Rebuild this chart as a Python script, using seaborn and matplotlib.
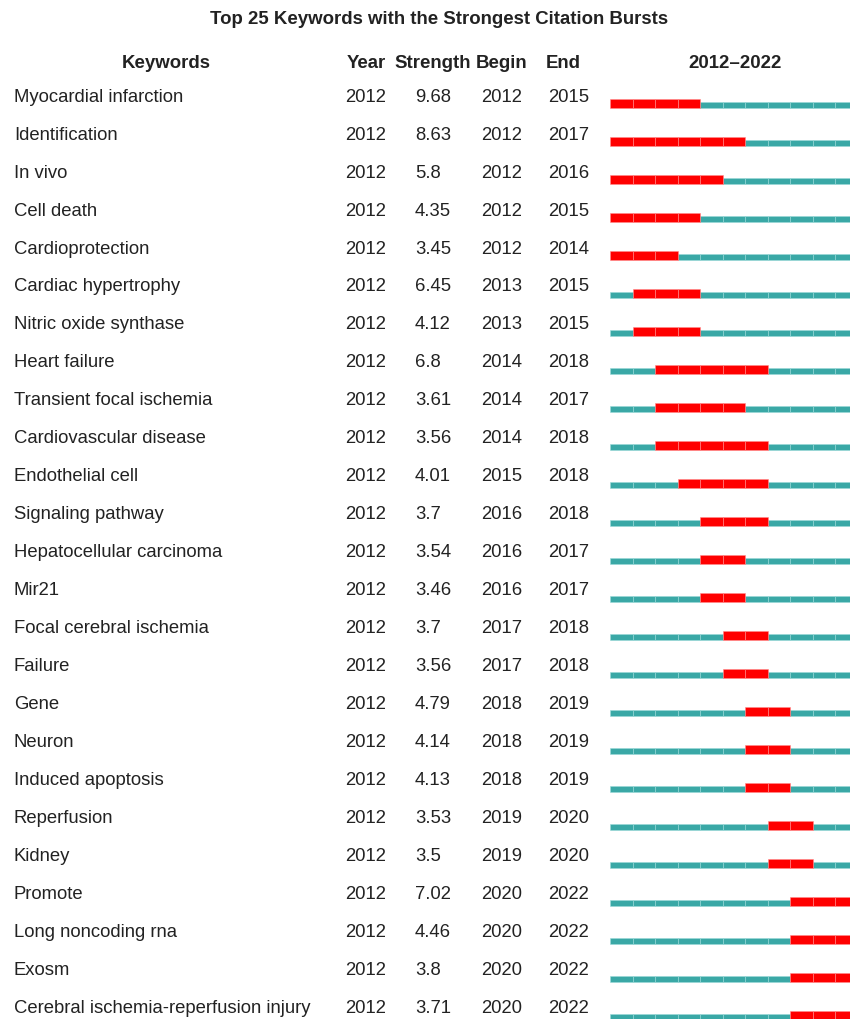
import numpy as np
import pandas as pd
import matplotlib
matplotlib.use("Agg")
import matplotlib.pyplot as plt
import seaborn as sns

# Burst table data
keywords = [
    "Myocardial infarction", "Identification", "In vivo", "Cell death",
    "Cardioprotection", "Cardiac hypertrophy", "Nitric oxide synthase",
    "Heart failure", "Transient focal ischemia", "Cardiovascular disease",
    "Endothelial cell", "Signaling pathway", "Hepatocellular carcinoma",
    "Mir21", "Focal cerebral ischemia", "Failure", "Gene", "Neuron",
    "Induced apoptosis", "Reperfusion", "Kidney", "Promote",
    "Long noncoding rna", "Exosm", "Cerebral ischemia-reperfusion injury",
]
year = [2012] * 25
strength = ["9.68", "8.63", "5.8", "4.35", "3.45", "6.45", "4.12", "6.8", "3.61",
            "3.56", "4.01", "3.7", "3.54", "3.46", "3.7", "3.56", "4.79", "4.14",
            "4.13", "3.53", "3.5", "7.02", "4.46", "3.8", "3.71"]
begin = [2012, 2012, 2012, 2012, 2012, 2013, 2013, 2014, 2014, 2014, 2015, 2016,
         2016, 2016, 2017, 2017, 2018, 2018, 2018, 2019, 2019, 2020, 2020, 2020, 2020]
end = [2015, 2017, 2016, 2015, 2014, 2015, 2015, 2018, 2017, 2018, 2018, 2018,
       2017, 2017, 2018, 2018, 2019, 2019, 2019, 2020, 2020, 2022, 2022, 2022, 2022]
first_year, last_year = 2012, 2022

sns.set_theme(style="white")
plt.rcParams["font.family"] = ["Liberation Sans", "DejaVu Sans"]

# one row per year cell
cells = pd.DataFrame(
    [(i, y, begin[i] <= y <= end[i])
     for i in range(len(keywords))
     for y in range(first_year, last_year + 1)],
    columns=["row", "year", "burst"],
)

W, H = 850, 1020
fig = plt.figure(figsize=(W / 100, H / 100), dpi=100)

# text layer in pixel units
ax_t = fig.add_axes([0, 0, 1, 1])
ax_t.set_xlim(0, W)
ax_t.set_ylim(H, 0)
ax_t.axis("off")

txt = "#222222"
fs = 13.3
ax_t.text(439, 20, "Top 25 Keywords with the Strongest Citation Bursts",
          ha="center", va="center", fontsize=13.4, fontweight="bold", color=txt)
hy = 63
for label, x in [("Keywords", 166), ("Year", 366), ("Strength", 433),
                 ("Begin", 502), ("End", 563), ("2012\u20132022", 735)]:
    ax_t.text(x, hy, label, ha="center", va="center", fontsize=13.4,
              fontweight="bold", color=txt)

row_h = 38
for i, kw in enumerate(keywords):
    y = 97 + row_h * i
    ax_t.text(14, y, kw, ha="left", va="center", fontsize=fs, color=txt)
    ax_t.text(345, y, str(year[i]), ha="left", va="center", fontsize=fs, color=txt)
    ax_t.text(415, y, strength[i], ha="left", va="center", fontsize=fs, color=txt)
    ax_t.text(481, y, str(begin[i]), ha="left", va="center", fontsize=fs, color=txt)
    ax_t.text(548, y, str(end[i]), ha="left", va="center", fontsize=fs, color=txt)

# bar layer: x in years, y in rows (row value = bottom edge of the bar)
x0, cell_w = 610, 22.5
n_years = last_year - first_year + 1
ax_b = fig.add_axes([x0 / W, 0, n_years * cell_w / W, 1])
ax_b.set_xlim(first_year, last_year + 1)
ax_b.set_ylim((H - 109) / row_h, -109 / row_h)
ax_b.axis("off")

teal, red = "#3aa8a6", "#ff0000"
h_teal, h_red = 6 / row_h, 9 / row_h
norm = cells[~cells["burst"]]
hot = cells[cells["burst"]]
ax_b.barh(norm["row"] - h_teal, 1, left=norm["year"], height=h_teal, align="edge",
          color=teal, edgecolor=(0.6, 0.85, 0.85, 0.8), linewidth=0.5)
ax_b.barh(hot["row"] - h_red, 1, left=hot["year"], height=h_red, align="edge",
          color=red, edgecolor=(1, 0.55, 0.55, 0.8), linewidth=0.5)

fig.savefig("out.png", dpi=100)
